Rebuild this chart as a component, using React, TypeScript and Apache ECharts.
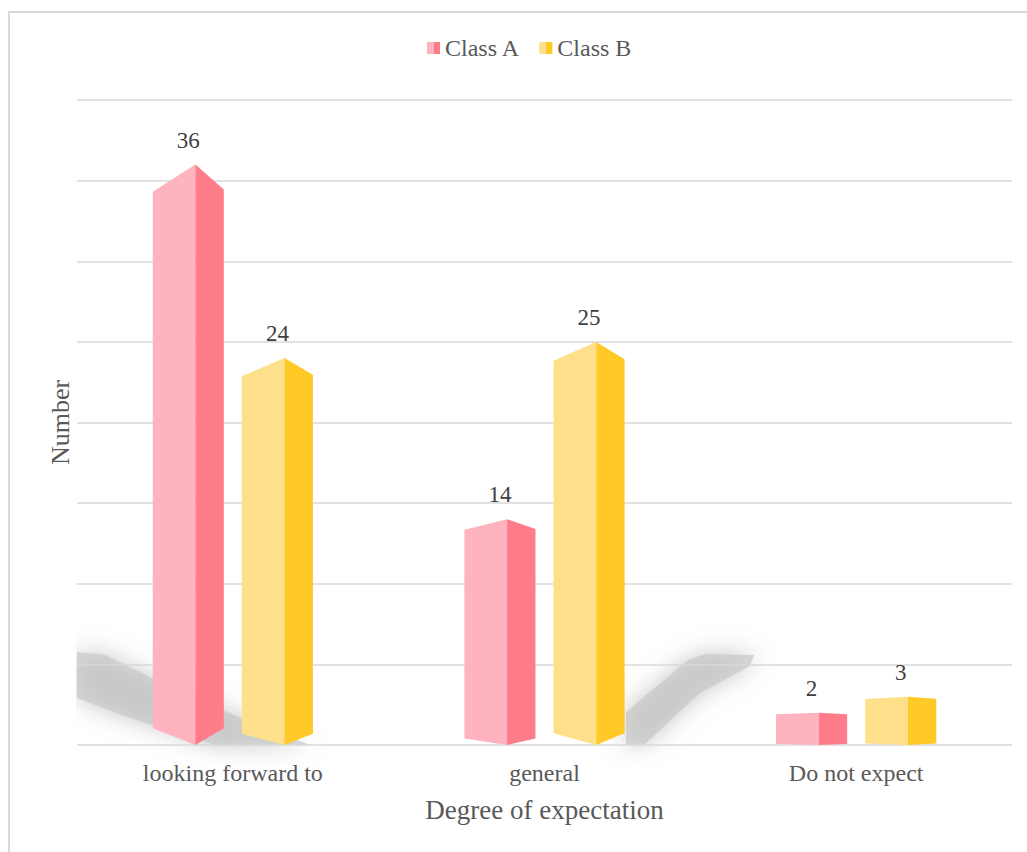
import React, { useEffect, useRef } from 'react';
import * as echarts from 'echarts';

const categories = ['looking forward to', 'general', 'Do not expect'];
const seriesNames = ['Class A', 'Class B'];
const classA = [36, 14, 2];
const classB = [24, 25, 3];
const yMin = 0;
const yMax = 40;
const yInterval = 5;

const PINK_LIGHT = '#FFB3BE';
const PINK_DARK = '#FF7C8A';
const YELLOW_LIGHT = '#FFE08A';
const YELLOW_DARK = '#FFCA28';
const FONT = '"Liberation Serif", "Times New Roman", serif';

function twoTone(light: string, dark: string) {
  return {
    type: 'linear', x: 0, y: 0, x2: 1, y2: 0,
    colorStops: [
      { offset: 0, color: light },
      { offset: 0.55, color: light },
      { offset: 0.55, color: dark },
      { offset: 1, color: dark },
    ],
  };
}

function makeRender(dir: number, light: string, dark: string) {
  return (params: any, api: any) => {
    const ci = api.value(0);
    const v = api.value(1);
    const base = api.coord([ci, 0]);
    const top = api.coord([ci, v]);
    const band = api.size([1, 0])[0];
    const barW = band * 0.228;
    const cx = base[0] + dir * band * 0.143;
    const x0 = cx - barW / 2;
    const x1 = cx + barW / 2;
    const ridge = x0 + barW * 0.6;
    const yb = base[1];
    const yt = top[1];
    const h = yb - yt;
    return {
      type: 'group',
      children: [
        {
          type: 'polygon',
          shape: { points: [[x0, yt + 0.047 * h], [ridge, yt], [ridge, yb], [x0, yb - 0.029 * h]] },
          style: { fill: light },
        },
        {
          type: 'polygon',
          shape: { points: [[ridge, yt], [x1, yt + 0.043 * h], [x1, yb - 0.029 * h], [ridge, yb]] },
          style: { fill: dark },
        },
        {
          type: 'text',
          x: cx,
          y: yt - 13,
          style: {
            text: String(v),
            fill: '#404040',
            font: '23px ' + FONT,
            align: 'center',
            verticalAlign: 'bottom',
          },
        },
      ],
    };
  };
}

// decorative soft floor shadows (pixel outlines)
function softShadow(points: number[][]) {
  return {
    type: 'polygon',
    silent: true,
    z: -10,
    shape: { points },
    style: {
      fill: 'rgba(200,200,200,0.7)',
      shadowBlur: 24,
      shadowColor: 'rgba(175,175,175,1)',
    },
  };
}

export default function App() {
  const ref = useRef<HTMLDivElement>(null);
  useEffect(() => {
    if (!ref.current) return;
    const chart = echarts.init(ref.current, null, { renderer: 'svg' });
    chart.setOption({
      animation: false,
      backgroundColor: '#ffffff',
      textStyle: { fontFamily: FONT },
      graphic: [
        softShadow([[77, 652], [105, 655], [160, 682], [250, 722], [310, 745], [215, 745], [130, 718], [77, 698]]),
        softShadow([[626, 712], [688, 660], [705, 654], [754, 655], [750, 666], [700, 693], [644, 745], [626, 745]]),
        {
          type: 'rect',
          silent: true,
          z: -9,
          shape: { x: 11, y: 600, width: 65, height: 200 },
          style: { fill: '#ffffff' },
        },
        {
          type: 'rect',
          silent: true,
          z: -8,
          shape: { x: 9, y: 12, width: 1040, height: 860 },
          style: { fill: 'none', stroke: '#d9d9d9', lineWidth: 2 },
        },
      ],
      legend: {
        left: 422,
        top: 31,
        itemWidth: 13,
        itemHeight: 12,
        itemGap: 19,
        textStyle: { fontSize: 24, color: '#595959', fontFamily: FONT },
        data: [
          { name: seriesNames[0], icon: 'rect', itemStyle: { color: twoTone(PINK_LIGHT, PINK_DARK) } },
          { name: seriesNames[1], icon: 'rect', itemStyle: { color: twoTone(YELLOW_LIGHT, YELLOW_DARK) } },
        ],
      },
      grid: { left: 77, right: 15, top: 100, bottom: 107 },
      xAxis: {
        type: 'category',
        data: categories,
        axisLine: { show: false },
        axisTick: { show: false },
        axisLabel: { fontSize: 24, color: '#595959', margin: 16, fontFamily: FONT },
        name: 'Degree of expectation',
        nameLocation: 'middle',
        nameGap: 51,
        nameTextStyle: { fontSize: 27, color: '#595959', fontFamily: FONT },
      },
      yAxis: {
        type: 'value',
        min: yMin,
        max: yMax,
        interval: yInterval,
        axisLabel: { show: false },
        axisLine: { show: false },
        axisTick: { show: false },
        splitLine: { lineStyle: { color: '#d9d9d9', width: 1.6 } },
        name: 'Number',
        nameLocation: 'middle',
        nameRotate: 90,
        nameGap: 4,
        nameTextStyle: { fontSize: 26, color: '#595959', fontFamily: FONT },
      },
      series: [
        {
          name: seriesNames[0],
          type: 'custom',
          itemStyle: { color: twoTone(PINK_LIGHT, PINK_DARK) },
          renderItem: makeRender(-1, PINK_LIGHT, PINK_DARK),
          encode: { x: 0, y: 1 },
          data: classA.map((v, i) => [i, v]),
          z: 5,
        },
        {
          name: seriesNames[1],
          type: 'custom',
          itemStyle: { color: twoTone(YELLOW_LIGHT, YELLOW_DARK) },
          renderItem: makeRender(1, YELLOW_LIGHT, YELLOW_DARK),
          encode: { x: 0, y: 1 },
          data: classB.map((v, i) => [i, v]),
          z: 5,
        },
      ],
    });
    return () => chart.dispose();
  }, []);
  return (
    <div
      ref={ref}
      style={{ position: 'absolute', left: 0, top: 0, width: 1027, height: 852 }}
    />
  );
}
